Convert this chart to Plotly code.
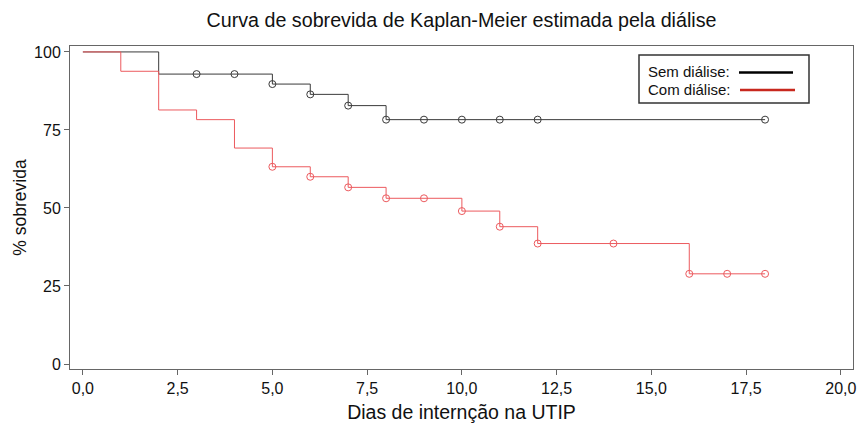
import plotly.graph_objects as go

# Sem diálise (step curve)
sem_t = [0, 2, 5, 6, 7, 8, 18]
sem_s = [100, 92.9, 89.7, 86.4, 82.8, 78.3, 78.3]
sem_cens_t = [3, 4, 5, 6, 7, 8, 9, 10, 11, 12, 18]
sem_cens_s = [92.9, 92.9, 89.7, 86.4, 82.8, 78.3, 78.3, 78.3, 78.3, 78.3, 78.3]

# Com diálise (step curve)
com_t = [0, 1, 2, 3, 4, 5, 6, 7, 8, 10, 11, 12, 16, 18]
com_s = [100, 93.8, 81.4, 78.3, 69.2, 63.2, 60.0, 56.6, 53.1, 49.0, 44.0, 38.6, 28.9, 28.9]
com_cens_t = [5, 6, 7, 8, 9, 10, 11, 12, 14, 16, 17, 18]
com_cens_s = [63.2, 60.0, 56.6, 53.1, 53.1, 49.0, 44.0, 38.6, 38.6, 28.9, 28.9, 28.9]

x_ticks = [0, 2.5, 5, 7.5, 10, 12.5, 15, 17.5, 20]
y_ticks = [0, 25, 50, 75, 100]

BLACK_LINE = "#3a3a3a"
RED_LINE = "#ec5a5e"

fig = go.Figure()
fig.add_trace(go.Scatter(x=sem_t, y=sem_s, mode="lines", line=dict(shape="hv", color=BLACK_LINE, width=1),
                         showlegend=False, hoverinfo="skip"))
fig.add_trace(go.Scatter(x=com_t, y=com_s, mode="lines", line=dict(shape="hv", color=RED_LINE, width=1),
                         showlegend=False, hoverinfo="skip"))
fig.add_trace(go.Scatter(x=sem_cens_t, y=sem_cens_s, mode="markers",
                         marker=dict(symbol="circle-open", size=7, color=BLACK_LINE, line=dict(width=1)),
                         showlegend=False))
fig.add_trace(go.Scatter(x=com_cens_t, y=com_cens_s, mode="markers",
                         marker=dict(symbol="circle-open", size=7, color=RED_LINE, line=dict(width=1)),
                         showlegend=False))

FONT = "Liberation Sans, Arial, Helvetica, sans-serif"

fig.update_layout(
    width=859, height=423,
    margin=dict(l=70, r=6, t=46, b=54),
    paper_bgcolor="white", plot_bgcolor="white",
    separators=",.",
    font=dict(family=FONT, color="#111", size=14),
    title=dict(text="Curva de sobrevida de Kaplan-Meier estimada pela diálise",
               x=0.5, xref="paper", xanchor="center", y=1 - 20 / 423, yref="container", yanchor="middle",
               font=dict(size=19.7, family=FONT, color="#111")),
    xaxis=dict(range=[-0.34, 20.32], tickvals=x_ticks, tickformat=".1f", automargin=False,
               showgrid=False, zeroline=False, showline=True, mirror=True,
               linecolor="#666", linewidth=1, ticks="outside", ticklen=5, tickcolor="#666",
               tickfont=dict(family=FONT, size=16, color="#111"),
               title=dict(text="Dias de internção na UTIP", font=dict(size=19.5, family=FONT, color="#111"),
                          standoff=9)),
    yaxis=dict(range=[-1.6, 101.9], tickvals=y_ticks, automargin=False,
               showgrid=False, zeroline=False, showline=True, mirror=True,
               linecolor="#666", linewidth=1, ticks="outside", ticklen=5, tickcolor="#666",
               tickfont=dict(family=FONT, size=16, color="#111"),
               title=dict(text="% sobrevida", font=dict(size=17.5, family=FONT, color="#111"),
                          standoff=2)),
)

# Custom legend box (label left, line sample right)
PW = 859 - 76
PH = 423 - 100
def px_(x):
    return (x - 70) / PW
def py(y):
    return 1 - (y - 46) / PH
fig.add_shape(type="rect", xref="paper", yref="paper", x0=px_(639), x1=px_(809), y0=py(103), y1=py(55),
              line=dict(color="#333", width=1.5), fillcolor="white")
fig.add_shape(type="line", xref="paper", yref="paper", x0=px_(739), x1=px_(793), y0=py(72.5), y1=py(72.5),
              line=dict(color="#000", width=2.5))
fig.add_shape(type="line", xref="paper", yref="paper", x0=px_(740), x1=px_(795), y0=py(90), y1=py(90),
              line=dict(color="#c8281e", width=2.5))
fig.add_annotation(xref="paper", yref="paper", x=px_(646), y=py(71), text="Sem diálise:",
                   showarrow=False, xanchor="left", yanchor="middle", font=dict(size=15, family=FONT, color="#111"))
fig.add_annotation(xref="paper", yref="paper", x=px_(646), y=py(89), text="Com diálise:",
                   showarrow=False, xanchor="left", yanchor="middle", font=dict(size=15, family=FONT, color="#111"))

fig.write_html("out.html", config={"displayModeBar": False},
               post_script="document.body.style.margin='0';document.body.style.overflow='hidden';")
